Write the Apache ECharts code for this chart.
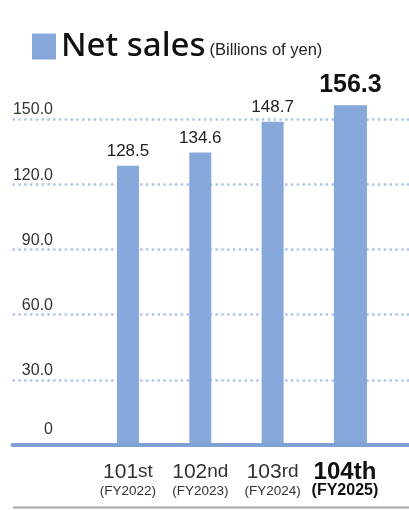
<!DOCTYPE html>
<html>
<head>
<meta charset="utf-8">
<script src="https://cdn.jsdelivr.net/npm/echarts@6/dist/echarts.min.js"></script>
<style>
html,body{margin:0;padding:0;background:#fff;}
#chart{width:409px;height:510px;}
</style>
</head>
<body>
<div id="chart"></div>
<script>
// ---- data ----
const seriesName = 'Net sales';
const unitLabel = '(Billions of yen)';
const categories = ['101st', '102nd', '103rd', '104th'];
const fiscalYears = ['FY2022', 'FY2023', 'FY2024', 'FY2025'];
const netSales = [128.5, 134.6, 148.7, 156.3];
const highlightIndex = 3;
const yMin = 0, yMax = 150, yInterval = 30;

const SANS = "'Liberation Sans', sans-serif";
const BAR = '#86a8da';

const chart = echarts.init(document.getElementById('chart'), null, {renderer: 'canvas'});

const wideData = netSales.map((v, i) => i === highlightIndex ? v : '-');
const narrowData = netSales.map((v, i) => i === highlightIndex ? '-' : v);

const option = {
  animation: false,
  backgroundColor: '#fff',
  legend: {
    data: [seriesName],
    left: 27, top: 25,
    itemWidth: 24, itemHeight: 26,
    icon: 'rect',
    selectedMode: false,
    formatter: n => `{a|${n}}{b|${unitLabel}}`,
    textStyle: {
      rich: {
        a: {fontFamily: "'Noto Sans', sans-serif", fontSize: 33, color: '#111', fontWeight: 500, padding: [0, 4, 0, 0]},
        b: {fontFamily: SANS, fontSize: 16.5, color: '#222', padding: [7, 0, 0, 0]}
      }
    }
  },
  grid: [
    {left: 91.8, right: 27.9, top: 119, bottom: 65},
    {left: 12.5, right: 0, top: 119, bottom: 65}
  ],
  xAxis: [
    {
      type: 'category', gridIndex: 0, data: categories,
      axisLine: {show: false}, axisTick: {show: false},
      axisLabel: {
        margin: 17,
        interval: 0,
        formatter: (v, i) => {
          const m = v.match(/^(\d+)(\D+)$/);
          const fy = '(' + fiscalYears[i] + ')';
          if (i === highlightIndex) return `{nb|${m[1]}}{sb|${m[2]}}\n{fb|${fy}}`;
          return `{n|${m[1]}}{s|${m[2]}}\n{f|${fy}}`;
        },
        rich: {
          n: {fontFamily: SANS, fontSize: 21, color: '#333', lineHeight: 20},
          s: {fontFamily: SANS, fontSize: 19, color: '#333', lineHeight: 20},
          f: {fontFamily: SANS, fontSize: 13.5, color: '#333', lineHeight: 18},
          nb: {fontFamily: SANS, fontWeight: 'bold', fontSize: 24, color: '#111', lineHeight: 20},
          sb: {fontFamily: SANS, fontWeight: 'bold', fontSize: 24, color: '#111', lineHeight: 20},
          fb: {fontFamily: SANS, fontWeight: 'bold', fontSize: 16, color: '#111', lineHeight: 18}
        }
      }
    },
    {
      type: 'value', gridIndex: 1, min: 0, max: 1, z: 5,
      axisLine: {show: true, onZero: false, lineStyle: {color: '#7ea2d6', width: 4}},
      axisTick: {show: false}, axisLabel: {show: false}, splitLine: {show: false}
    }
  ],
  yAxis: [
    {
      type: 'value', gridIndex: 0, min: yMin, max: yMax, interval: yInterval,
      show: false, splitLine: {show: false}
    },
    {
      type: 'value', gridIndex: 1, min: yMin, max: yMax, interval: yInterval,
      axisLine: {show: false}, axisTick: {show: false},
      axisLabel: {
        margin: -40.5, align: 'right', verticalAlign: 'bottom',
        padding: [0, 0, 1, 0],
        fontFamily: SANS, fontSize: 16, color: '#333',
        formatter: v => v === 0 ? '{z|0}' : v.toFixed(1),
        rich: {z: {fontFamily: SANS, fontSize: 16, color: '#333', padding: [0, 0, 6, 0]}}
      },
      splitLine: {
        show: true, showMinLine: false,
        lineStyle: {color: '#b3c6e9', width: 2.5, type: [2.5, 3.3]}
      }
    }
  ],
  series: [
    {
      name: seriesName, type: 'bar', xAxisIndex: 0, yAxisIndex: 0,
      data: wideData, barWidth: 33, barGap: '-100%', clip: false,
      itemStyle: {color: BAR},
      label: {
        show: true, position: 'top', distance: 8,
        fontFamily: SANS, fontWeight: 'bold', fontSize: 25, color: '#111',
        formatter: p => p.value.toFixed(1)
      }
    },
    {
      name: seriesName, type: 'bar', xAxisIndex: 0, yAxisIndex: 0,
      data: narrowData, barWidth: 22, barGap: '-100%', clip: false,
      itemStyle: {color: BAR},
      label: {
        show: true, position: 'top', distance: 6,
        fontFamily: SANS, fontSize: 17, color: '#222',
        formatter: p => p.value.toFixed(1)
      }
    }
  ],
  graphic: [
    {type: 'line', shape: {x1: 13, y1: 507.5, x2: 409, y2: 507.5}, style: {stroke: '#a8a8a8', lineWidth: 2}, silent: true}
  ]
};
chart.setOption(option);
</script>
</body>
</html>
